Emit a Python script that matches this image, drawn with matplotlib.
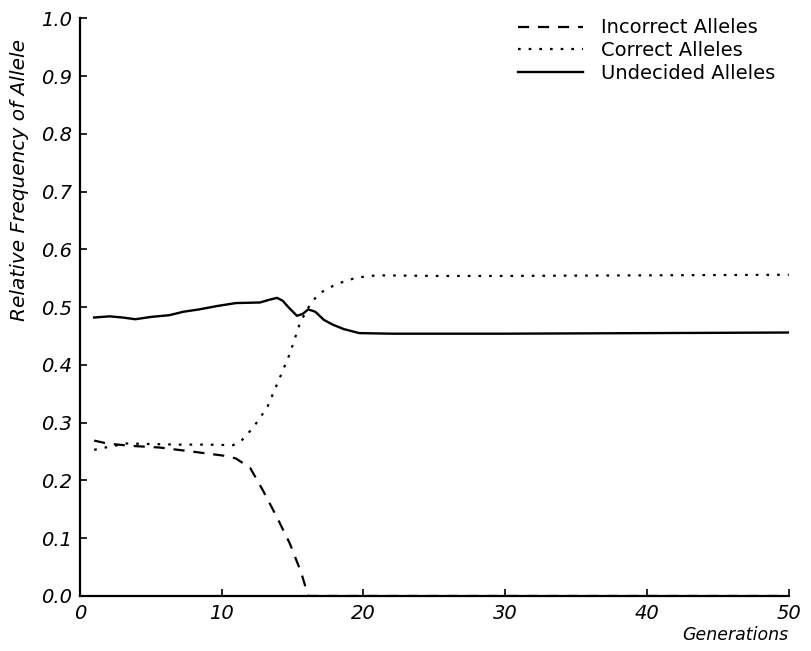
import matplotlib
matplotlib.use("Agg")
import matplotlib.pyplot as plt

# generations and relative allele frequencies
gen_und = [1.0, 2.1, 3.0, 3.9, 5.0, 6.3, 7.3, 8.4, 9.7, 11.0, 12.7, 13.4, 13.9, 14.3, 14.7,
           15.3, 15.7, 16.1, 16.6, 17.2, 17.8, 18.6, 19.7, 22.0, 30.0, 40.0, 50.0]
undecided = [0.482, 0.484, 0.482, 0.479, 0.483, 0.486, 0.492, 0.496, 0.502, 0.507, 0.508, 0.513, 0.516,
             0.511, 0.500, 0.485, 0.488, 0.496, 0.492, 0.478, 0.470, 0.462, 0.455, 0.454, 0.454, 0.455, 0.456]

gen_cor = [1.0, 2.0, 3.3, 5.0, 7.0, 9.0, 10.8, 11.4, 12.2, 13.2, 14.1, 14.8, 15.5, 16.0, 16.4,
           16.9, 18.1, 19.5, 20.9, 25.0, 30.0, 40.0, 50.0]
correct = [0.253, 0.258, 0.264, 0.263, 0.262, 0.262, 0.261, 0.269, 0.291, 0.326, 0.378, 0.419, 0.471,
           0.495, 0.510, 0.524, 0.540, 0.551, 0.555, 0.554, 0.554, 0.555, 0.556]

gen_inc = [1.0, 1.9, 3.5, 5.6, 7.9, 10.1, 11.0, 12.0, 12.9, 13.9, 14.8, 15.6, 16.1, 20.0, 30.0, 40.0, 50.0]
incorrect = [0.269, 0.264, 0.260, 0.257, 0.250, 0.243, 0.238, 0.222, 0.183, 0.136, 0.091, 0.041, 0.0,
             0.0, 0.0, 0.0, 0.0]

xticks = [0, 10, 20, 30, 40, 50]
yticks = [0.0, 0.1, 0.2, 0.3, 0.4, 0.5, 0.6, 0.7, 0.8, 0.9, 1.0]

plt.rcParams['font.family'] = ['DejaVu Sans']

fig = plt.figure(figsize=(8.11, 6.51), dpi=100)
ax = fig.add_axes([0.0986, 0.0845, 0.874, 0.8875])

ax.plot(gen_inc, incorrect, color='black', linewidth=1.6, linestyle=(0, (5, 4)), label='Incorrect Alleles')
ax.plot(gen_cor, correct, color='black', linewidth=1.6, linestyle=(0, (1.2, 3.6)), label='Correct Alleles')
ax.plot(gen_und, undecided, color='black', linewidth=1.7, linestyle='-', label='Undecided Alleles')

ax.set_xlim(0, 50)
ax.set_ylim(0, 1.0)
ax.set_xticks(xticks)
ax.set_yticks(yticks)
ax.set_xticklabels([str(t) for t in xticks], fontsize=14, style='italic')
ax.set_yticklabels(['%.1f' % t for t in yticks], fontsize=14, style='italic')
ax.tick_params(direction='in', length=5, width=1.2, pad=6)

for side in ['top', 'right']:
    ax.spines[side].set_visible(False)
for side in ['left', 'bottom']:
    ax.spines[side].set_linewidth(1.6)

ax.set_ylabel('Relative Frequency of Allele', fontsize=14.5, style='italic')
ax.yaxis.set_label_coords(-0.072, 0.72)
ax.set_xlabel('Generations', fontsize=12.5, style='italic')
ax.xaxis.label.set_horizontalalignment('right')
ax.xaxis.set_label_coords(1.0, -0.052)

leg = ax.legend(loc='upper right', bbox_to_anchor=(1.005, 1.03), frameon=False, fontsize=14,
                handlelength=3.35, handletextpad=0.9, labelspacing=0.2)

fig.savefig('out.png', dpi=100)
